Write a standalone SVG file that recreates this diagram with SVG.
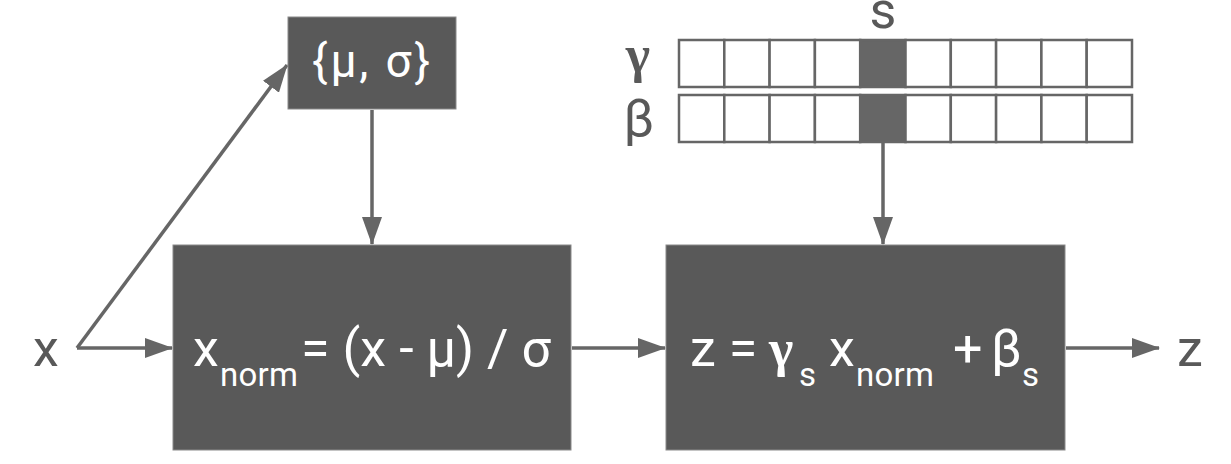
<svg xmlns="http://www.w3.org/2000/svg" width="1231" height="464" viewBox="0 0 1231 464">
<defs>
<style>
.box{fill:#595959;stroke:#8a8a8a;stroke-width:1}
.wt{fill:#ffffff;font-family:Roboto,"Liberation Sans",sans-serif}
.lbl{fill:#595959;font-family:Roboto,"Liberation Sans",sans-serif;font-size:52px}
.serif{font-family:"Liberation Serif","DejaVu Serif",serif;font-weight:bold}
.edge{stroke:#666666;stroke-width:3.5;fill:none}
.cell{fill:#ffffff;stroke:#666666;stroke-width:2.5}
.sel{fill:#666666;stroke:#666666;stroke-width:2.5}
</style>
<marker id="ahb" viewBox="0 0 28 20" refX="27" refY="10" markerWidth="28" markerHeight="20" orient="auto" markerUnits="userSpaceOnUse">
<path d="M0,0 L28,10 L0,20 Z" fill="#666666"/>
</marker>
</defs>
<rect width="1231" height="464" fill="#ffffff"/>

<g id="connectors">
<line class="edge" x1="77" y1="348" x2="172" y2="348" marker-end="url(#ahb)"/>
<line class="edge" x1="77" y1="348" x2="287" y2="65" marker-end="url(#ahb)"/>
<line class="edge" x1="372" y1="110" x2="372" y2="244" marker-end="url(#ahb)"/>
<line class="edge" x1="572" y1="348" x2="665" y2="348" marker-end="url(#ahb)"/>
<line class="edge" x1="883" y1="143" x2="883" y2="244" marker-end="url(#ahb)"/>
<line class="edge" x1="1066" y1="348" x2="1159" y2="348" marker-end="url(#ahb)"/>
</g>

<g id="input-x"><text class="lbl" x="46" y="366" text-anchor="middle">x</text></g>
<g id="output-z"><text class="lbl" x="1190" y="366" text-anchor="middle">z</text></g>

<g id="stats">
<rect class="box" x="288" y="17" width="168" height="92"/>
<text class="wt" x="312" y="77" font-size="46" textLength="118" lengthAdjust="spacing">{μ, σ}</text>
</g>

<g id="normalize">
<rect class="box" x="173" y="245" width="398" height="205"/>
<text class="wt" font-size="52" y="366"><tspan x="193">x</tspan><tspan x="220" y="386" font-size="33" textLength="78" lengthAdjust="spacing">norm</tspan><tspan x="301" y="366" textLength="250" lengthAdjust="spacing">= (x - μ) / σ</tspan></text>
</g>

<g id="affine">
<rect class="box" x="666" y="245" width="399" height="205"/>
<text class="wt" font-size="52" y="366"><tspan x="690">z =</tspan><tspan x="769" class="serif" font-size="52">γ</tspan><tspan x="799" y="386" font-size="33">s</tspan><tspan x="829" y="366">x</tspan><tspan x="856" y="386" font-size="33" textLength="78" lengthAdjust="spacing">norm</tspan><tspan x="953" y="366">+</tspan><tspan x="991">β</tspan><tspan x="1022" y="386" font-size="33">s</tspan></text>
</g>

<g id="params">
<text class="lbl" x="883" y="28" text-anchor="middle" font-size="35">s</text>
<text class="lbl serif" x="638" y="72" text-anchor="middle" font-size="52">γ</text>
<text class="lbl" x="639" y="136" text-anchor="middle" font-size="46">β</text>
<g id="gamma-row">
<rect class="cell" x="679" y="40" width="45.3" height="47"/>
<rect class="cell" x="724.3" y="40" width="45.3" height="47"/>
<rect class="cell" x="769.6" y="40" width="45.3" height="47"/>
<rect class="cell" x="814.9" y="40" width="45.3" height="47"/>
<rect class="sel" x="860.2" y="40" width="45.3" height="47"/>
<rect class="cell" x="905.5" y="40" width="45.3" height="47"/>
<rect class="cell" x="950.8" y="40" width="45.3" height="47"/>
<rect class="cell" x="996.1" y="40" width="45.3" height="47"/>
<rect class="cell" x="1041.4" y="40" width="45.3" height="47"/>
<rect class="cell" x="1086.7" y="40" width="45.3" height="47"/>
</g>
<g id="beta-row">
<rect class="cell" x="679" y="95" width="45.3" height="47"/>
<rect class="cell" x="724.3" y="95" width="45.3" height="47"/>
<rect class="cell" x="769.6" y="95" width="45.3" height="47"/>
<rect class="cell" x="814.9" y="95" width="45.3" height="47"/>
<rect class="sel" x="860.2" y="95" width="45.3" height="47"/>
<rect class="cell" x="905.5" y="95" width="45.3" height="47"/>
<rect class="cell" x="950.8" y="95" width="45.3" height="47"/>
<rect class="cell" x="996.1" y="95" width="45.3" height="47"/>
<rect class="cell" x="1041.4" y="95" width="45.3" height="47"/>
<rect class="cell" x="1086.7" y="95" width="45.3" height="47"/>
</g>
</g>
</svg>
